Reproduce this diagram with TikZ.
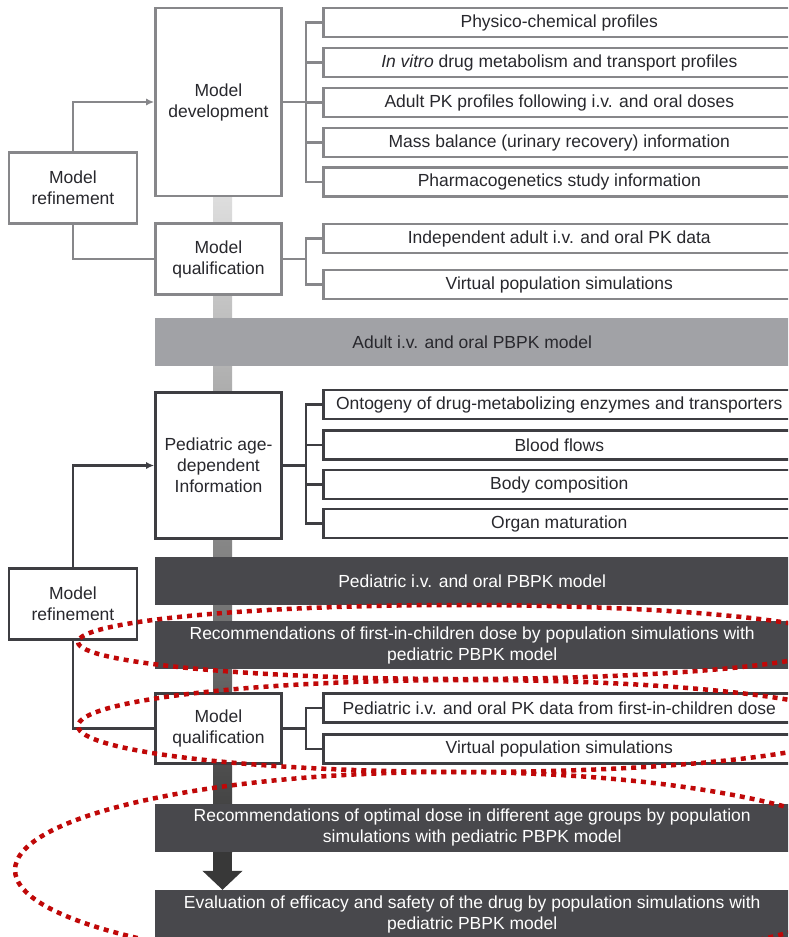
\documentclass[tikz,border=0pt]{standalone}
\usepackage{fontspec}
\setmainfont{Liberation Sans}
\usetikzlibrary{arrows.meta,positioning}
\definecolor{inkgray}{RGB}{40,40,45}
\definecolor{lightframe}{RGB}{135,135,138}
\definecolor{darkframe}{RGB}{62,62,66}
\definecolor{adultgray}{RGB}{161,162,166}
\definecolor{pedgray}{RGB}{72,72,76}
\definecolor{notered}{RGB}{192,8,8}
\tikzset{
  every node/.append style={font=\fontsize{17.5}{21}\selectfont, text=inkgray},
}

\begin{document}
\begin{tikzpicture}[
    x=1pt, y=-1pt,
    stepbox/.style={
        rectangle,
        draw=lightframe,
        line width=2.6pt,
        fill=white,
        minimum width=126pt,
        align=center,
        inner sep=2pt
    },
    darkstep/.style={stepbox, draw=darkframe},
    infobox/.style={
        rectangle,
        draw=lightframe,
        line width=2.6pt,
        fill=white,
        minimum width=472pt,
        minimum height=29pt,
        anchor=west,
        inner sep=0pt
    },
    darkinfo/.style={infobox, draw=darkframe},
    modelbar/.style={
        rectangle,
        minimum width=634pt,
        minimum height=48pt,
        anchor=west,
        align=center,
        inner sep=0pt
    },
    link/.style={draw=lightframe, line width=2.2pt},
    darklink/.style={link, draw=darkframe},
    feedback/.style={-{Latex[length=8pt,width=7pt]}},
    circled/.style={draw=notered, line width=4.5pt, dash pattern=on 5pt off 5pt}
]
\useasboundingbox (0,0) rectangle (788,937);
\clip (0,0) rectangle (788,937);
\fill[white] (0,0) rectangle (788,937);

% Spine behind the workflow
\coordinate (spinex) at (222.5,0);
\shade[top color=black!13, middle color=black!52, bottom color=black!78] (213,196) rectangle (232,852);

% Adult stage
\node[stepbox, minimum height=188pt] (dev) at (218.5,102) {Model\\development};
\node[stepbox, minimum width=128pt, minimum height=71pt] (ref1) at (73,188) {Model\\refinement};
\node[stepbox, minimum height=71pt] (qual1) at (218.5,259) {Model\\qualification};

\node[infobox] (pc) at (322,22.5) {Physico-chemical profiles};
\node[infobox] (iv) at (322,62.5) {\textit{In vitro} drug metabolism and transport profiles};
\node[infobox] (pk) at (322,102.5) {Adult PK profiles following i.v. and oral doses};
\node[infobox] (mb) at (322,142.5) {Mass balance (urinary recovery) information};
\node[infobox] (pg) at (322,182) {Pharmacogenetics study information};
\node[infobox] (ind) at (322,238.5) {Independent adult i.v. and oral PK data};
\node[infobox] (vp1) at (322,284.5) {Virtual population simulations};

\node[modelbar, fill=adultgray] (adult) at (155,342) {Adult i.v. and oral PBPK model};

% Pediatric stage
\node[darkstep, minimum height=146pt] (ped) at (218.5,465.5) {Pediatric age-\\dependent\\Information};
\node[darkinfo] (ont) at (322,404.5) {Ontogeny of drug-metabolizing enzymes and transporters};
\node[darkinfo] (bf) at (322,445) {Blood flows};
\node[darkinfo] (bc) at (322,484.5) {Body composition};
\node[darkinfo] (om) at (322,523.5) {Organ maturation};

\node[modelbar, fill=pedgray, text=white] (pedbar) at (155,581) {Pediatric i.v. and oral PBPK model};
\node[darkstep, minimum width=128pt, minimum height=71pt] (ref2) at (73,604) {Model\\refinement};
\node[modelbar, fill=pedgray, text=white] (rec1) at (155,645) {Recommendations of first-in-children dose by population simulations with\\pediatric PBPK model};

\node[darkstep, minimum height=70pt] (qual2) at (218.5,728.5) {Model\\qualification};
\node[darkinfo] (pkd) at (322,708) {Pediatric i.v. and oral PK data from first-in-children dose};
\node[darkinfo] (vp2) at (322,749) {Virtual population simulations};

\node[modelbar, fill=pedgray, text=white] (rec2) at (155,827.5) {Recommendations of optimal dose in different age groups by population\\simulations with pediatric PBPK model};
\node[modelbar, fill=pedgray, text=white] (eval) at (155,914) {Evaluation of efficacy and safety of the drug by population simulations with\\pediatric PBPK model};

% Brackets to the information boxes
\foreach \b in {pc,iv,pk,mb,pg}
  \draw[link] (dev.east) -- ++(23,0) |- (\b.west);
\foreach \b in {ind,vp1}
  \draw[link] (qual1.east) -- ++(23,0) |- (\b.west);
\foreach \b in {ont,bf,bc,om}
  \draw[darklink] (ped.east) -- ++(23,0) |- (\b.west);
\foreach \b in {pkd,vp2}
  \draw[darklink] (qual2.east) -- ++(23,0) |- (\b.west);

% Refinement loops
\draw[link, feedback] (ref1.north) |- (dev.west);
\draw[link] (ref1.south) |- (qual1.west);
\draw[darklink, feedback] (ref2.north) |- (ped.west);
\draw[darklink] (ref2.south) |- (qual2.west);

% Final step
\draw[line width=19pt, draw=black!78, -{Triangle[width=39pt,length=19pt]}] (rec2.south -| spinex) -- (eval.north -| spinex);

% Red highlights
\draw[circled] (460,642) ellipse [x radius=382, y radius=37];
\draw[circled] (468,726) ellipse [x radius=390, y radius=46];
\draw[circled] (452,870) ellipse [x radius=437, y radius=98];
\end{tikzpicture}
\end{document}
